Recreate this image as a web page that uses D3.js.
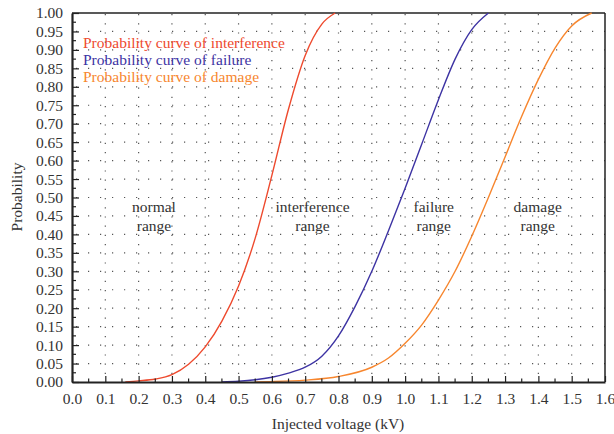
<!DOCTYPE html>
<html><head><meta charset="utf-8">
<script src="https://cdn.jsdelivr.net/npm/d3@7"></script>
<style>body{margin:0;background:#fff}text{font-family:"Liberation Serif","DejaVu Serif",serif;fill:#333}</style>
</head><body><svg id="c" width="614" height="434"></svg>
<script>
const interfX = [0.16,0.2,0.25,0.3,0.35,0.4,0.45,0.5,0.55,0.6,0.65,0.7,0.75,0.79];
const interfY = [0,0.003,0.008,0.02,0.048,0.095,0.165,0.26,0.39,0.56,0.74,0.885,0.97,1.0];
const failX = [0.45,0.5,0.55,0.6,0.65,0.7,0.75,0.8,0.85,0.9,0.95,1.0,1.05,1.1,1.15,1.2,1.25];
const failY = [0,0.002,0.006,0.013,0.024,0.04,0.07,0.125,0.205,0.3,0.41,0.525,0.645,0.765,0.875,0.955,1.0];
const damX = [0.55,0.6,0.7,0.8,0.9,0.95,1.0,1.05,1.1,1.15,1.2,1.25,1.3,1.35,1.4,1.45,1.5,1.56];
const damY = [0,0.001,0.005,0.015,0.04,0.065,0.105,0.155,0.222,0.3,0.395,0.5,0.61,0.72,0.82,0.905,0.965,1.0];
const seriesNames = ["Probability curve of interference","Probability curve of failure","Probability curve of damage"];
const seriesColors = ["#ee4a2e","#3d33a3","#f7862e"];
const regionLabels = [["normal","range"],["interference","range"],["failure","range"],["damage","range"]];
const regionX = [0.246,0.722,1.086,1.398];
const regionY = 0.46;
const xTicks = d3.range(0,17).map(i=>i/10);
const yTicks = d3.range(0,21).map(i=>i/20);

const svg = d3.select("#c");
const L=72,R=605,T=13,B=382;
const FS = 15.5;
const x = d3.scaleLinear().domain([0,1.6]).range([L,R]);
const y = d3.scaleLinear().domain([0,1]).range([B,T]);

// grid
const g = svg.append("g");
g.selectAll(".hg").data(yTicks.slice(1,-1)).join("line")
 .attr("x1",L+4).attr("x2",R).attr("y1",d=>y(d)).attr("y2",d=>y(d))
 .attr("stroke","#555").attr("stroke-width",1.2).attr("stroke-dasharray","1.2,10.8");
g.selectAll(".vg").data(xTicks.slice(1,-1)).join("line")
 .attr("x1",d=>x(d)).attr("x2",d=>x(d)).attr("y1",B-8).attr("y2",T)
 .attr("stroke","#555").attr("stroke-width",1.2).attr("stroke-dasharray","1.2,8");

// frame
svg.append("line").attr("x1",L).attr("x2",R).attr("y1",T).attr("y2",T).attr("stroke","#222").attr("stroke-width",1.5);
svg.append("line").attr("x1",R).attr("x2",R).attr("y1",T).attr("y2",B).attr("stroke","#222").attr("stroke-width",1.5);

// curves
const line = d3.line().x(d=>x(d[0])).y(d=>y(d[1])).curve(d3.curveMonotoneX);
const data = [d3.zip(interfX,interfY), d3.zip(failX,failY), d3.zip(damX,damY)];
svg.selectAll(".curve").data(data).join("path")
 .attr("d",line).attr("fill","none").attr("stroke",(d,i)=>seriesColors[i]).attr("stroke-width",1.4);

// axes
const xa = svg.append("g").attr("transform",`translate(0,${B})`)
 .call(d3.axisBottom(x).tickValues(xTicks).tickFormat(d3.format(".1f")).tickSizeInner(-6).tickSizeOuter(0).tickPadding(11));
xa.append("g").selectAll("line").data(d3.range(0,16).map(i=>i/10+0.05)).join("line")
 .attr("x1",d=>x(d)).attr("x2",d=>x(d)).attr("y1",0).attr("y2",-3.5).attr("stroke","#222").attr("stroke-width",1.2);
const ya = svg.append("g").attr("transform",`translate(${L},0)`)
 .call(d3.axisLeft(y).tickValues(yTicks).tickFormat(d3.format(".2f")).tickSizeInner(-7).tickSizeOuter(0).tickPadding(9));
ya.append("g").selectAll("line").data(d3.range(0,20).map(i=>i/20+0.025)).join("line")
 .attr("x1",0).attr("x2",4).attr("y1",d=>y(d)).attr("y2",d=>y(d)).attr("stroke","#222").attr("stroke-width",1.2);
[xa,ya].forEach(a=>{
  a.select(".domain").attr("stroke","#222").attr("stroke-width",2.2);
  a.selectAll(".tick line").attr("stroke","#222").attr("stroke-width",1.2);
  a.selectAll(".tick text").attr("font-size",FS).attr("fill","#333").attr("font-family","Liberation Serif");
});

// legend
seriesNames.forEach((n,i)=>{
  svg.append("text").attr("x",83).attr("y",48+i*17).attr("font-size",FS)
   .style("fill",seriesColors[i]).text(n);
});

// region labels
regionLabels.forEach((ls,i)=>{
  ls.forEach((t,j)=>{
    svg.append("text").attr("x",x(regionX[i])).attr("y",y(regionY)+j*18.5)
     .attr("text-anchor","middle").attr("font-size",FS).text(t);
  });
});

// axis titles
svg.append("text").attr("x",338).attr("y",429).attr("text-anchor","middle").attr("font-size",FS).text("Injected voltage (kV)");
svg.append("text").attr("transform","translate(22,197) rotate(-90)").attr("text-anchor","middle").attr("font-size",FS).text("Probability");
</script></body></html>
